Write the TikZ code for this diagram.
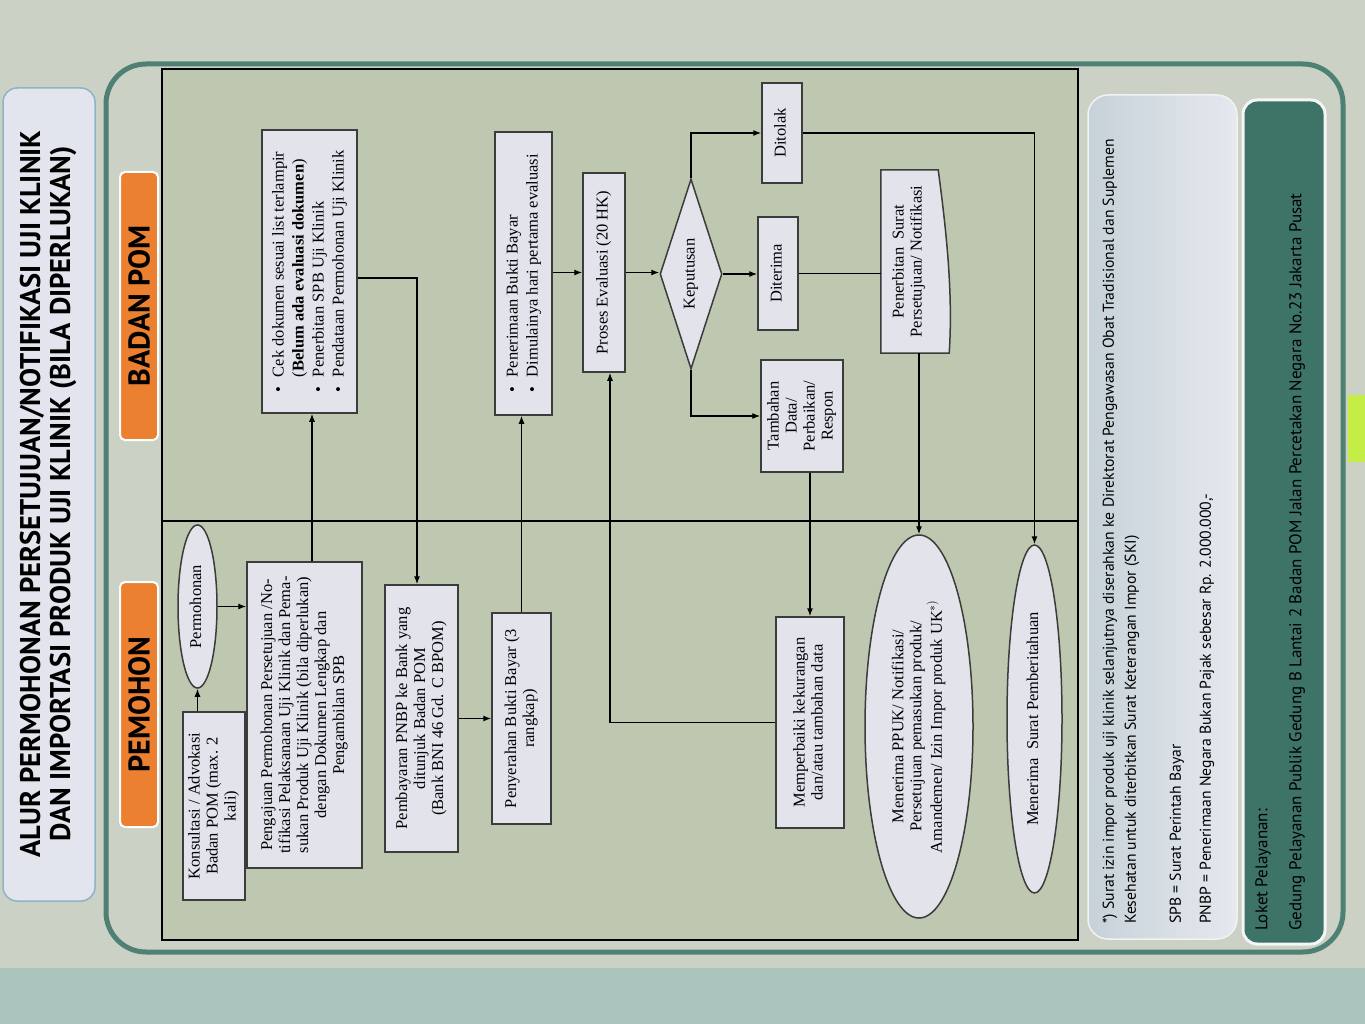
\documentclass[tikz,border=0pt]{standalone}
\usepackage{fontspec}
\usepackage{graphicx}
\usetikzlibrary{shapes.geometric,arrows.meta,calc}
\newfontfamily\sansfont{PT Sans}
\newfontfamily\flowfont{Liberation Serif}
\definecolor{surface}{RGB}{172,196,190}
\definecolor{page}{RGB}{203,209,196}
\definecolor{flowbg}{RGB}{190,199,175}
\definecolor{tealframe}{RGB}{78,128,116}
\definecolor{boxfill}{RGB}{227,227,236}
\definecolor{boxline}{RGB}{60,60,60}
\definecolor{titlefill}{RGB}{226,229,237}
\definecolor{titleline}{RGB}{140,180,196}
\definecolor{orangelab}{RGB}{234,128,48}
\definecolor{tealbox}{RGB}{62,116,104}
\definecolor{notel}{RGB}{198,210,216}
\definecolor{noter}{RGB}{230,233,239}
\definecolor{sticker}{RGB}{196,238,70}
\pgfdeclarelayer{back}
\pgfsetlayers{back,main}
\newcommand{\rtx}[1]{\rotatebox{90}{\begin{tabular}{@{}c@{}}#1\end{tabular}}}
\newcommand{\rls}[1]{\rotatebox{90}{\begin{tabular}{@{}l@{\hspace{10pt}}l@{}}#1\end{tabular}}}
\begin{document}
\begin{tikzpicture}[x=1pt,y=-1pt,
  flow/.style={font=\flowfont\fontsize{16.5}{18}\selectfont, inner sep=0pt},
  box/.style={flow, draw=boxline, line width=1.5pt, fill=boxfill},
  oval/.style={box, ellipse},
  conn/.style={line width=1.2pt, draw=black},
  arr/.style={conn, -{Latex[length=8pt,width=6pt]}},
  lab/.style={fill=orangelab, draw=white, line width=2pt, rounded corners=5pt, inner sep=0pt, font=\sansfont\bfseries\fontsize{30}{32}\selectfont},
  note/.style={rotate=90, anchor=west, inner sep=0pt, font=\sansfont\fontsize{15.7}{18}\selectfont},
  loket/.style={rotate=90, anchor=west, inner sep=0pt, font=\sansfont\fontsize{17}{20}\selectfont},
]
\useasboundingbox (0,0) rectangle (1365,1024);
\begin{pgfonlayer}{back}
\fill[surface] (0,0) rectangle (1365,1024);
\fill[page] (0,0) rectangle (1365,968);
\fill[sticker] (1348,395) rectangle (1365,462);
\draw[tealframe, line width=5pt, rounded corners=40pt] (106,64) rectangle (1343,952);
\fill[flowbg] (162,69) rectangle (1078,940);
\draw[line width=1.3pt] (162,69) rectangle (1078,940);
\draw[line width=1.3pt] (162,521) -- (1078,521);
\draw[fill=titlefill, draw=titleline, line width=1.5pt, rounded corners=14pt] (3,88) rectangle (95,901);
\shade[left color=notel, right color=noter, rounded corners=20pt] (1088,95) rectangle (1237,939);
\draw[white!90!gray, line width=1.5pt, rounded corners=20pt] (1088,95) rectangle (1237,939);
\draw[fill=tealbox, draw=white!92!gray, line width=3pt, rounded corners=14pt] (1243,100) rectangle (1325,944);
\end{pgfonlayer}

% title and lane labels
\node[rotate=90, align=center, font=\sansfont\bfseries\fontsize{28.5}{30}\selectfont] (title) at (48,494)
  {ALUR PERMOHONAN PERSETUJUAN/NOTIFIKASI UJI KLINIK\\DAN IMPORTASI PRODUK UJI KLINIK (BILA DIPERLUKAN)};
\node[lab, rotate=90, minimum width=268, minimum height=38] (badan) at (139,306) {BADAN POM};
\node[lab, rotate=90, minimum width=245, minimum height=38] (pemohon) at (139,704.5) {PEMOHON};

% flow nodes
\node[box, minimum width=62, minimum height=188] (kons) at (214,806) {\rtx{Konsultasi / Advokasi\\Badan POM (max. 2\\kali)}};
\node[oval, minimum width=39, minimum height=163] (perm) at (197.5,606.5) {\rtx{Permohonan}};
\node[box, minimum width=115, minimum height=306] (peng) at (304.5,715) {\rtx{Pengajuan Permohonan Persetujuan /No-\\tifikasi Pelaksanaan Uji Klinik dan Pema-\\sukan Produk Uji Klinik (bila diperlukan)\\dengan Dokumen Lengkap dan\\Pengambilan SPB}};
\node[box, font=\flowfont\fontsize{16.5}{20}\selectfont, minimum width=95, minimum height=283] (cek) at (309.5,271.5) {\rls{\textbullet & Cek dokumen sesuai list terlampir\\ & (\textbf{Belum ada evaluasi dokumen})\\ \textbullet & Penerbitan SPB Uji Klinik\\ \textbullet & Pendataan Permohonan Uji Klinik}};
\node[box, minimum width=73, minimum height=267] (pemb) at (421.5,718.5) {\rtx{Pembayaran PNBP ke Bank yang\\ditunjuk Badan POM\\(Bank BNI 46 Gd. C BPOM)}};
\node[box, minimum width=59, minimum height=211] (peny) at (521.5,718.5) {\rtx{Penyerahan Bukti Bayar (3\\rangkap)}};
\node[box, font=\flowfont\fontsize{16.5}{20}\selectfont, minimum width=57, minimum height=283] (penr) at (523.5,273.5) {\rls{\textbullet & Penerimaan Bukti Bayar\\ \textbullet & Dimulainya hari pertama evaluasi}};
\node[box, minimum width=42, minimum height=199] (proses) at (604,272.5) {\rtx{Proses Evaluasi (20 HK)}};
\node[box, diamond, minimum width=62, minimum height=190] (kep) at (691,274) {};
\node[flow, rotate=90] (keptext) at (kep.center) {Keputusan};
\node[box, minimum width=40, minimum height=100] (dit) at (782,133) {\rtx{Ditolak}};
\node[box, minimum width=40, minimum height=113] (dtr) at (778,273.5) {\rtx{Diterima}};
\node[box, minimum width=82, minimum height=112] (tamb) at (802,416) {\rtx{Tambahan\\Data/\\Perbaikan/\\Respon}};
\node[flow, minimum width=56, minimum height=183] (pen) at (909,261.5) {\rtx{Penerbitan~~Surat\\Persetujuan/ Notifikasi}};
\begin{pgfonlayer}{back}
\draw[fill=boxfill, draw=boxline, line width=1.5pt] (pen.north west) -- ($(pen.north east)+(1,0)$)
  .. controls ($(pen.north east)+(9,60)$) and ($(pen.south east)+(16,-60)$) .. ($(pen.south east)+(12,0)$)
  -- (pen.south west) -- cycle;
\end{pgfonlayer}
\node[box, minimum width=68, minimum height=211] (mem) at (810,722.5) {\rtx{Memperbaiki kekurangan\\dan/atau tambahan data}};
\node[oval, minimum width=108, minimum height=383] (ppuk) at (919,726.5) {\rtx{Menerima PPUK/ Notifikasi/\\Persetujuan pemasukan produk/\\Amandemen/ Izin Impor produk UK$^{*)}$}};
\node[oval, minimum width=55, minimum height=348] (msp) at (1034.5,719) {\rtx{Menerima~~Surat Pemberitahuan}};

% notes
\node[note] (fn1) at (1110,924) {*) Surat izin impor produk uji klinik selanjutnya diserahkan ke Direktorat Pengawasan Obat Tradisional dan Suplemen};
\node[note] (fn2) at (1132,924) {Kesehatan untuk diterbitkan Surat Keterangan Impor (SKI)};
\node[note] (fn3) at (1177,924) {SPB = Surat Perintah Bayar};
\node[note] (fn4) at (1207,924) {PNBP = Penerimaan Negara Bukan Pajak sebesar Rp. 2.000.000,-};
\node[loket] (lok1) at (1263,931) {Loket Pelayanan:};
\node[loket] (lok2) at (1297,931) {Gedung Pelayanan Publik Gedung B Lantai 2 Badan POM Jalan Percetakan Negara No.23 Jakarta Pusat};

% connectors
\coordinate (c312) at (312,0);
\coordinate (c417) at (417,278);
\coordinate (c610) at (610,0);
\draw[arr] (perm.south |- kons.north) -- (perm.south);
\draw[arr] (perm.east) -- (perm.east -| peng.west);
\draw[arr] (peng.north -| c312) -- (cek.south -| c312);
\draw[arr] (cek.east |- c417) -| (pemb.north -| c417);
\draw[arr] (pemb.east) -- (pemb.east -| peny.west);
\draw[arr] (peny.north) -- (peny.north |- penr.south);
\draw[arr] (penr.east |- proses.west) -- (proses.west);
\draw[arr] (proses.east) -- (proses.east -| kep.west);
\draw[arr] (kep.north) |- (dit.west);
\draw[arr] (kep.east) -- (kep.east -| dtr.west);
\draw[arr] (kep.south) |- (tamb.west);
\draw[conn] (dtr.east) -- (dtr.east -| pen.west);
\draw[arr] (pen.south -| ppuk.north) -- (ppuk.north);
\draw[arr] (dit.east) -| (msp.north);
\draw[arr] (tamb.south -| mem.north) -- (mem.north);
\draw[arr] (mem.west) -| (c610 |- proses.south);
\end{tikzpicture}
\end{document}
